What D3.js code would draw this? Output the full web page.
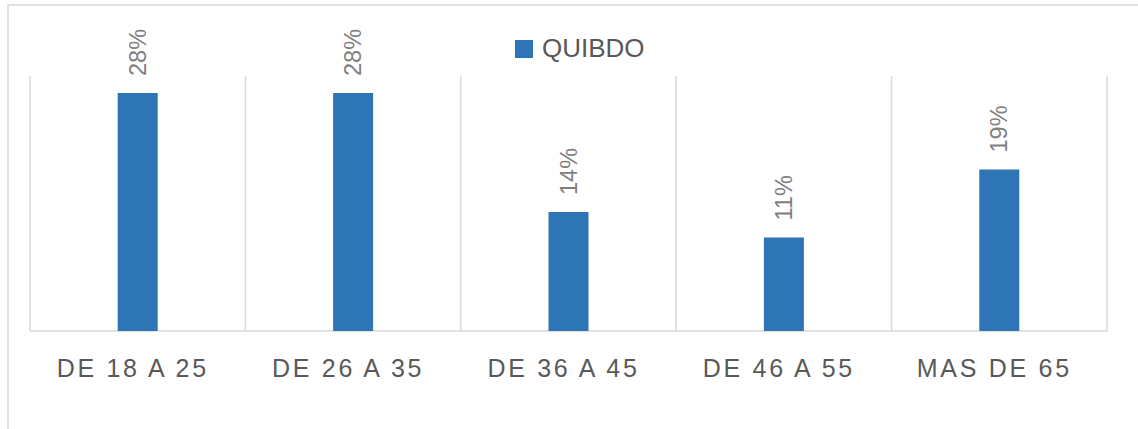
<!DOCTYPE html>
<html>
<head>
<meta charset="utf-8">
<script src="https://cdn.jsdelivr.net/npm/d3@7"></script>
<style>
  body { margin: 0; background: #fff; }
</style>
</head>
<body>
<div id="chart"></div>
<script>
// data
var categories = ["DE 18 A 25", "DE 26 A 35", "DE 36 A 45", "DE 46 A 55", "MAS DE 65"];
var values = [28, 28, 14, 11, 19];
var labels = ["28%", "28%", "14%", "11%", "19%"];
var seriesName = "QUIBDO";

var W = 1138, H = 429;
var plot = { left: 30, right: 1107, top: 76, bottom: 331 };

var svg = d3.select("#chart").append("svg")
    .attr("width", W)
    .attr("height", H);

// chart area border (right/bottom fall outside the window)
svg.append("rect")
    .attr("x", 8).attr("y", 5)
    .attr("width", 1200).attr("height", 600)
    .attr("fill", "#fff")
    .attr("stroke", "#d9d9d9")
    .attr("stroke-width", 1.5);

var x = d3.scaleBand()
    .domain(categories)
    .range([plot.left, plot.right])
    .paddingInner(0).paddingOuter(0);

var y = d3.scaleLinear()
    .domain([0, 30])
    .range([plot.bottom, plot.top]);

// vertical gridlines at category boundaries
var bounds = categories.map(function(c) { return x(c); }).concat([plot.right]);
svg.append("g").selectAll("line")
    .data(bounds)
    .enter().append("line")
    .attr("x1", function(d) { return d; })
    .attr("x2", function(d) { return d; })
    .attr("y1", plot.top)
    .attr("y2", plot.bottom)
    .attr("stroke", "#d9d9d9")
    .attr("stroke-width", 1.5);

// baseline
svg.append("line")
    .attr("x1", plot.left).attr("x2", plot.right)
    .attr("y1", plot.bottom).attr("y2", plot.bottom)
    .attr("stroke", "#d9d9d9")
    .attr("stroke-width", 1.5);

var barW = 40;
svg.append("g").selectAll("rect")
    .data(values)
    .enter().append("rect")
    .attr("x", function(d, i) { return x(categories[i]) + x.bandwidth() / 2 - barW / 2; })
    .attr("y", function(d) { return y(d); })
    .attr("width", barW)
    .attr("height", function(d) { return plot.bottom - y(d); })
    .attr("fill", "#2e75b6");

// rotated value labels
svg.append("g").selectAll("text")
    .data(values)
    .enter().append("text")
    .attr("transform", function(d, i) {
        var cx = x(categories[i]) + x.bandwidth() / 2;
        return "translate(" + (cx + 8) + "," + (y(d) - 17) + ") rotate(-90)";
    })
    .attr("text-anchor", "start")
    .attr("font-family", "Liberation Sans, Arial, sans-serif")
    .attr("font-size", 23.5)
    .attr("fill", "#7f7f7f")
    .text(function(d, i) { return labels[i]; });

// category labels
svg.append("g").selectAll("text")
    .data(categories)
    .enter().append("text")
    .attr("x", function(d) { return x(d) + x.bandwidth() / 2 - 5; })
    .attr("y", 377)
    .attr("text-anchor", "middle")
    .attr("font-family", "Liberation Sans, Arial, sans-serif")
    .attr("font-size", 25)
    .attr("letter-spacing", "2.7px")
    .attr("fill", "#595959")
    .text(function(d) { return d; });

// legend
var legend = svg.append("g");
legend.append("rect")
    .attr("x", 515).attr("y", 40)
    .attr("width", 18).attr("height", 18)
    .attr("fill", "#2e75b6");
legend.append("text")
    .attr("x", 542).attr("y", 57)
    .attr("font-family", "Liberation Sans, Arial, sans-serif")
    .attr("font-size", 26)
    .attr("fill", "#595959")
    .text(seriesName);
</script>
</body>
</html>
